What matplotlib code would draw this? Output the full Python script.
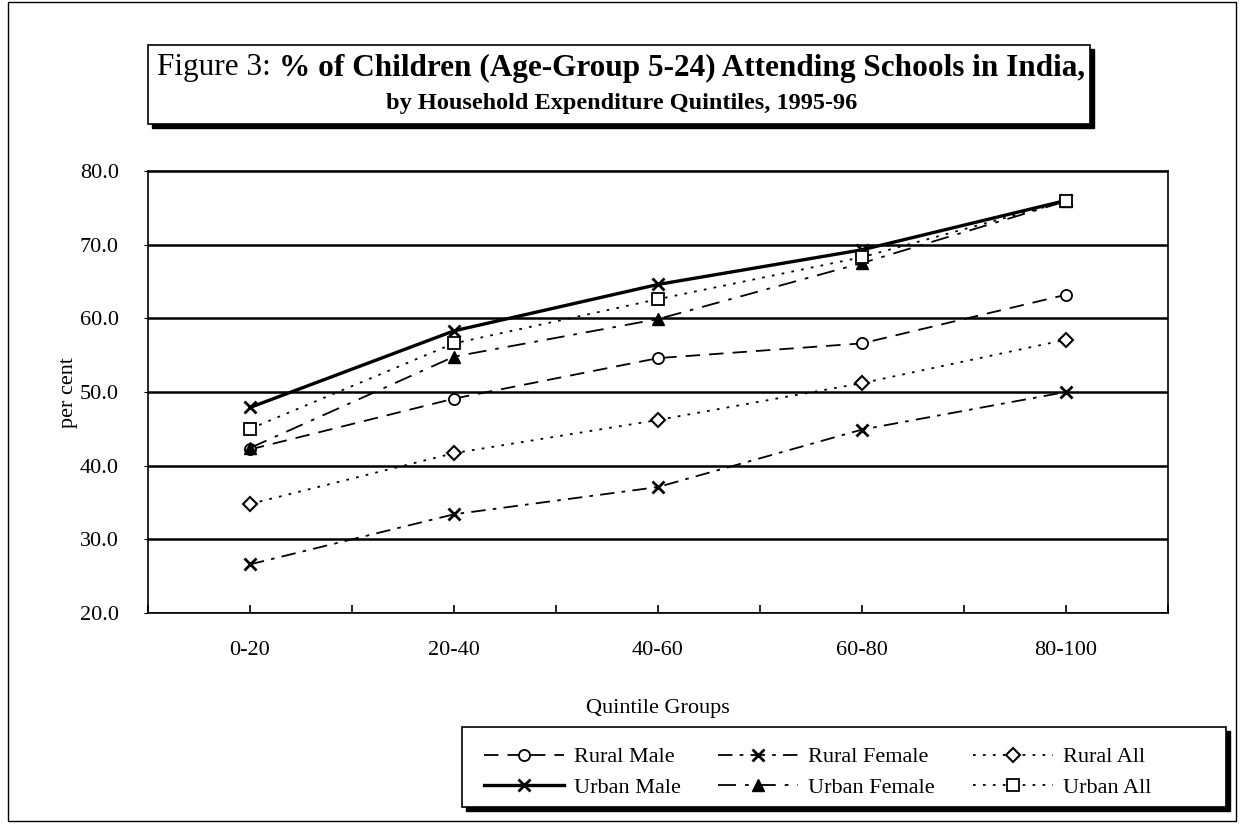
import matplotlib.pyplot as plt
from matplotlib.patches import Rectangle
from matplotlib.ticker import MultipleLocator, NullFormatter

plt.rcParams['font.family'] = ['Liberation Serif', 'DejaVu Serif']

# Datos
groups = ['0-20', '20-40', '40-60', '60-80', '80-100']
rural_male = [42.2, 49.1, 54.6, 56.6, 63.2]
rural_female = [26.6, 33.4, 37.1, 44.9, 50.0]
rural_all = [34.8, 41.7, 46.2, 51.2, 57.1]
urban_male = [47.9, 58.3, 64.6, 69.3, 76.0]
urban_female = [42.4, 54.8, 59.9, 67.5, 75.9]
urban_all = [45.0, 56.6, 62.6, 68.3, 75.9]

W, H = 1242, 825
fig = plt.figure(figsize=(W / 100, H / 100), dpi=100)


def box(x0, y0, x1, y1, shadow=0, lw=1.2, fill='white'):
    # rectangulo en pixeles (origen arriba a la izquierda)
    if shadow:
        fig.patches.append(Rectangle((x0 / W + shadow / W, 1 - y1 / H - shadow / H),
                                     (x1 - x0) / W, (y1 - y0) / H,
                                     transform=fig.transFigure, facecolor='black',
                                     edgecolor='black', zorder=1))
    fig.patches.append(Rectangle((x0 / W, 1 - y1 / H), (x1 - x0) / W, (y1 - y0) / H,
                                 transform=fig.transFigure, facecolor=fill,
                                 edgecolor='black', lw=lw, zorder=2))


# marco exterior, caja del titulo y caja de la leyenda
box(8, 2, 1236, 821, lw=1.0, fill='none')
box(148, 45, 1090, 124, shadow=4)
box(462, 727, 1226, 807, shadow=4)

# Titulo con dos pesos de letra
renderer = fig.canvas.get_renderer()
y1 = 1 - 68 / H
t_reg = fig.text(0, y1, 'Figure 3: ', fontsize=22.5, va='center', zorder=3)
t_bold = fig.text(0, y1, '% of Children (Age-Group 5-24) Attending Schools in India,',
                  fontsize=22.5, fontweight='bold', va='center', zorder=3)
w_reg = t_reg.get_window_extent(renderer).width
w_bold = t_bold.get_window_extent(renderer).width
start = 621 - (w_reg + w_bold) / 2
t_reg.set_x(start / W)
t_bold.set_x((start + w_reg) / W)
fig.text(622 / W, 1 - 103 / H, 'by Household Expenditure Quintiles, 1995-96',
         fontsize=17.5, fontweight='bold', ha='center', va='center', zorder=3)

# Ejes
ax = fig.add_axes([148 / W, 1 - 613 / H, 1020 / W, 442 / H])
x = range(len(groups))
ax.plot(x, rural_male, color='k', lw=1.3, ls=(0, (8, 5)), marker='o', ms=8,
        mfc='white', mew=1.3, label='Rural Male', zorder=4)
ax.plot(x, rural_female, color='k', lw=1.3, ls=(0, (8, 4, 2, 4)), marker='x', ms=9,
        mew=2, label='Rural Female', zorder=4)
ax.plot(x, rural_all, color='k', lw=1.3, ls=(0, (1.5, 4)), marker='D', ms=7,
        mfc='white', mew=1.5, label='Rural All', zorder=4)
ax.plot(x, urban_male, color='k', lw=2.4, ls='-', marker='x', ms=9,
        mew=2, label='Urban Male', zorder=4)
ax.plot(x, urban_female, color='k', lw=1.3, ls=(0, (10, 5, 2, 5)), marker='^', ms=8,
        label='Urban Female', zorder=5)
ax.plot(x, urban_all, color='k', lw=1.3, ls=(0, (1.5, 4)), marker='s', ms=8,
        mfc='white', mew=1.3, label='Urban All', zorder=6)

ax.set_xlim(-0.5, 4.5)
ax.set_ylim(20, 80)
ax.set_yticks([20, 30, 40, 50, 60, 70, 80])
ax.set_yticklabels([f'{v:.1f}' for v in [20, 30, 40, 50, 60, 70, 80]])
ax.yaxis.grid(True, color='black', lw=1.8)
ax.set_axisbelow(True)
ax.set_xticks(list(x))
ax.set_xticklabels(groups)
ax.xaxis.set_minor_locator(MultipleLocator(0.5))
ax.xaxis.set_minor_formatter(NullFormatter())
ax.tick_params(axis='x', which='both', direction='in', length=6, width=1.2,
               labelsize=16, pad=20)
ax.tick_params(axis='y', length=3, labelsize=16, pad=18)
for s in ax.spines.values():
    s.set_linewidth(1.2)
ax.set_xlabel('Quintile Groups', fontsize=16, labelpad=28)
ax.set_ylabel('per cent', fontsize=16, labelpad=1)

# Leyenda (orden por filas)
h, l = ax.get_legend_handles_labels()
order = [0, 3, 1, 4, 2, 5]
leg = fig.legend([h[i] for i in order], [l[i] for i in order], ncol=3,
                 loc='upper left', bbox_to_anchor=(466 / W, 1 - 729 / H),
                 fontsize=16, frameon=False, handlelength=3.6,
                 columnspacing=1.7, borderpad=0.3, labelspacing=0.45,
                 handletextpad=0.45)
leg.set_zorder(5)

fig.savefig('out.png', dpi=100)
